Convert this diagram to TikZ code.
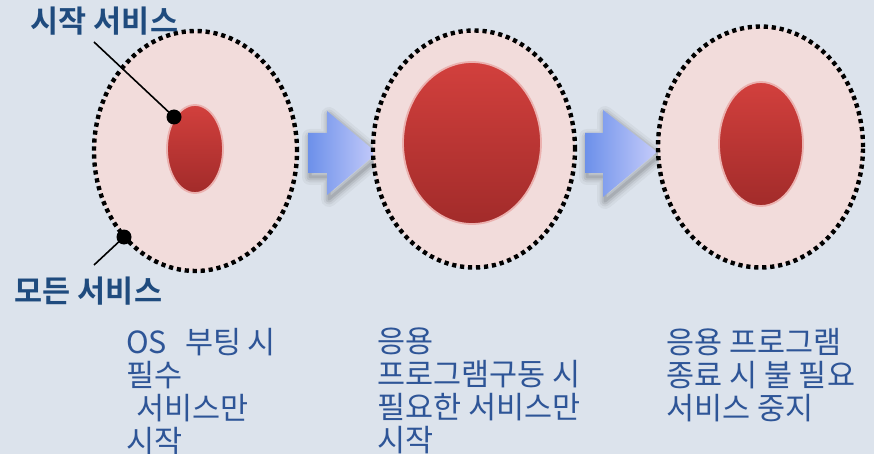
\documentclass[tikz,border=0pt]{standalone}
\usepackage{fontspec}
\setmainfont{Noto Sans CJK KR}[BoldFont={Noto Sans CJK KR Bold}]
\usetikzlibrary{shapes.geometric}
\definecolor{bgc}{HTML}{DCE3EC}
\definecolor{outerfill}{HTML}{F2DCDB}
\definecolor{redtop}{HTML}{D2403D}
\definecolor{redbot}{HTML}{A22B2A}
\definecolor{redrim}{HTML}{EBB1AF}
\definecolor{labblue}{HTML}{1F4B7E}
\definecolor{txtblue}{HTML}{2E5597}
\definecolor{arrL}{HTML}{6C90EA}
\definecolor{arrR}{HTML}{C6CCFA}
\tikzset{
  outerell/.style={ellipse, inner sep=0pt, fill=outerfill, draw=black, line width=4.4pt,
    dash pattern=on 4.2pt off 3.8pt},
  innerell/.style={ellipse, inner sep=0pt, draw=redrim, line width=1.8pt,
    top color=redtop, bottom color=redbot},
  lab/.style={font=\bfseries\fontsize{30.5}{32}\selectfont, text=labblue, inner sep=0pt},
  body/.style={font=\fontsize{30.5}{33}\selectfont, text=txtblue, align=left, anchor=north west, inner sep=0pt},
  dotmark/.style={circle, fill=black, inner sep=0pt, minimum size=15pt},
  leader/.style={draw=black, line width=1.6pt},
  bigarrow/.style={left color=arrL, right color=arrR, draw=none}
}
\begin{document}
\begin{tikzpicture}[x=1pt,y=-1pt]
\useasboundingbox (0,0) rectangle (874,454);
\fill[bgc] (0,0) rectangle (874,454);

% arrows shadows
\foreach \w/\o in {16/0.04,11/0.05,7/0.07,3/0.09}{
  \draw[line width=\w pt, black, opacity=\o, line join=round]
    (310,137) -- (329,137) -- (329,115) -- (379,157) -- (329,199) -- (329,177) -- (310,177) -- cycle;
  \draw[line width=\w pt, black, opacity=\o, line join=round]
    (587,137) -- (605,137) -- (605,114) -- (659,156) -- (605,201) -- (605,177) -- (587,177) -- cycle;
}
\path[bigarrow] (308,133) -- (327,133) -- (327,111) -- (377,153) -- (327,195) -- (327,173) -- (308,173) -- cycle;
\path[bigarrow] (585,133) -- (603,133) -- (603,110) -- (657,152) -- (603,197) -- (603,173) -- (585,173) -- cycle;

% ellipses
\node[outerell, minimum width=203pt, minimum height=240pt] (o1) at (195.5,151) {};
\node[outerell, minimum width=202pt, minimum height=237pt] (o2) at (474,149) {};
\node[outerell, minimum width=205pt, minimum height=241pt] (o3) at (760.5,147) {};
\node[innerell, minimum width=56pt, minimum height=88pt] (i1) at (195,149) {};
\node[innerell, minimum width=138pt, minimum height=162pt] (i2) at (472,143) {};
\node[innerell, minimum width=84pt, minimum height=124pt] (i3) at (761,144) {};

% labels
\node[lab] (l1) at (104.5,21) {시작 서비스};
\node[lab] (l2) at (88.5,291) {모든 서비스};

\coordinate (c1) at (94,42);
\coordinate (c2) at (94,265);
\node[dotmark] (d1) at (174,117) {};
\node[dotmark] (d2) at (124,237) {};
\draw[leader] (c1) -- (d1.center);
\draw[leader] (c2) -- (d2.center);

% bottom texts
\node[body] (t1) at (126,328) {OS\hspace{18pt}부팅 시\\필수\\\hspace*{10pt}서비스만\\시작};
\node[body] (t2) at (377,328) {응용\\프로그램구동 시\\필요한 서비스만\\시작};
\node[body] (t3) at (666,328) {응용 프로그램\\종료 시 불 필요\\서비스 중지};
\end{tikzpicture}
\end{document}
